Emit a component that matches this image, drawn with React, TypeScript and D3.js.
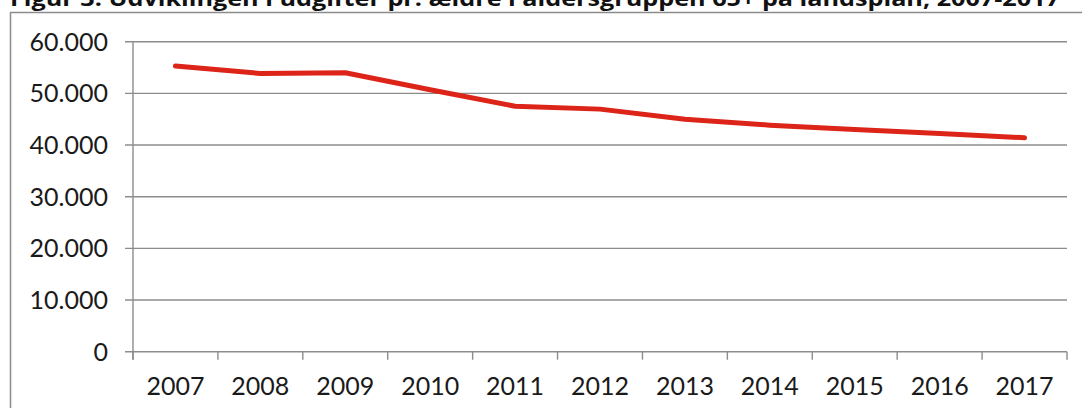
import React from "react";
import * as d3 from "d3";

const years = ["2007", "2008", "2009", "2010", "2011", "2012", "2013", "2014", "2015", "2016", "2017"];
const values = [55300, 53850, 54000, 50700, 47500, 46950, 45000, 43850, 43000, 42250, 41400];
const yTicks = [0, 10000, 20000, 30000, 40000, 50000, 60000];
const title = "Figur 3. Udviklingen i udgifter pr. ældre i aldersgruppen 65+ på landsplan, 2007-2017";

const width = 1082;
const height = 408;
const margin = { top: 41.7, right: 15, bottom: 56.3, left: 133 };

const daFormat = d3
  .formatLocale({ decimal: ",", thousands: ".", grouping: [3], currency: ["", " kr."] })
  .format(",");

const App = () => {
  const x = d3
    .scaleBand()
    .domain(years)
    .range([margin.left, width - margin.right])
    .padding(0);

  const y = d3
    .scaleLinear()
    .domain([0, 60000])
    .range([height - margin.bottom, margin.top]);

  const line = d3
    .line<number>()
    .x((d, i) => (x(years[i]) as number) + x.bandwidth() / 2)
    .y((d) => y(d));

  const gridColor = "#8c8c8c";
  const font = "Lato, 'Liberation Sans', sans-serif";
  const [x0, x1] = x.range();
  const y0 = y(0);

  // tick positions on the category axis sit at the band edges
  const xEdges = years.map((yr) => x(yr) as number).concat([x1]);

  return (
    <svg
      width={width}
      height={height}
      style={{ position: "absolute", left: 0, top: 0, display: "block", background: "#fff" }}
    >
      {/* chart title, partly cut off at the top */}
      <text
        x={10}
        y={6}
        fontFamily="'Open Sans', 'DejaVu Sans', sans-serif"
        fontWeight="bold"
        fontSize={22}
        textLength={1050}
        lengthAdjust="spacingAndGlyphs"
        fill="#111"
      >
        {title}
      </text>

      {/* outer frame */}
      <path d={`M10.5,${height} V12.5 H${width}`} fill="none" stroke={gridColor} strokeWidth={1.5} />

      {/* gridlines and y labels */}
      {yTicks.map((t) => (
        <g key={t}>
          <line x1={x0 - 8} x2={x1} y1={y(t)} y2={y(t)} stroke={gridColor} strokeWidth={1.4} />
          <text
            x={108}
            y={y(t)}
            dy="0.36em"
            textAnchor="end"
            fontFamily={font}
            fontSize={25}
            fill="#1a1a1a"
          >
            {daFormat(t)}
          </text>
        </g>
      ))}

      {/* y axis line */}
      <line x1={x0} x2={x0} y1={y(60000)} y2={y0 + 8} stroke={gridColor} strokeWidth={1.4} />

      {/* x axis ticks */}
      {xEdges.map((ex, i) => (
        <line key={i} x1={ex} x2={ex} y1={y0} y2={y0 + 8} stroke={gridColor} strokeWidth={1.4} />
      ))}

      {/* x labels */}
      {years.map((yr) => (
        <text
          key={yr}
          x={(x(yr) as number) + x.bandwidth() / 2}
          y={395}
          textAnchor="middle"
          fontFamily={font}
          fontSize={25}
          fill="#1a1a1a"
        >
          {yr}
        </text>
      ))}

      {/* series line */}
      <path
        d={line(values) || ""}
        fill="none"
        stroke="#dc2418"
        strokeWidth={5}
        strokeLinejoin="round"
        strokeLinecap="round"
      />
    </svg>
  );
};

export default App;
